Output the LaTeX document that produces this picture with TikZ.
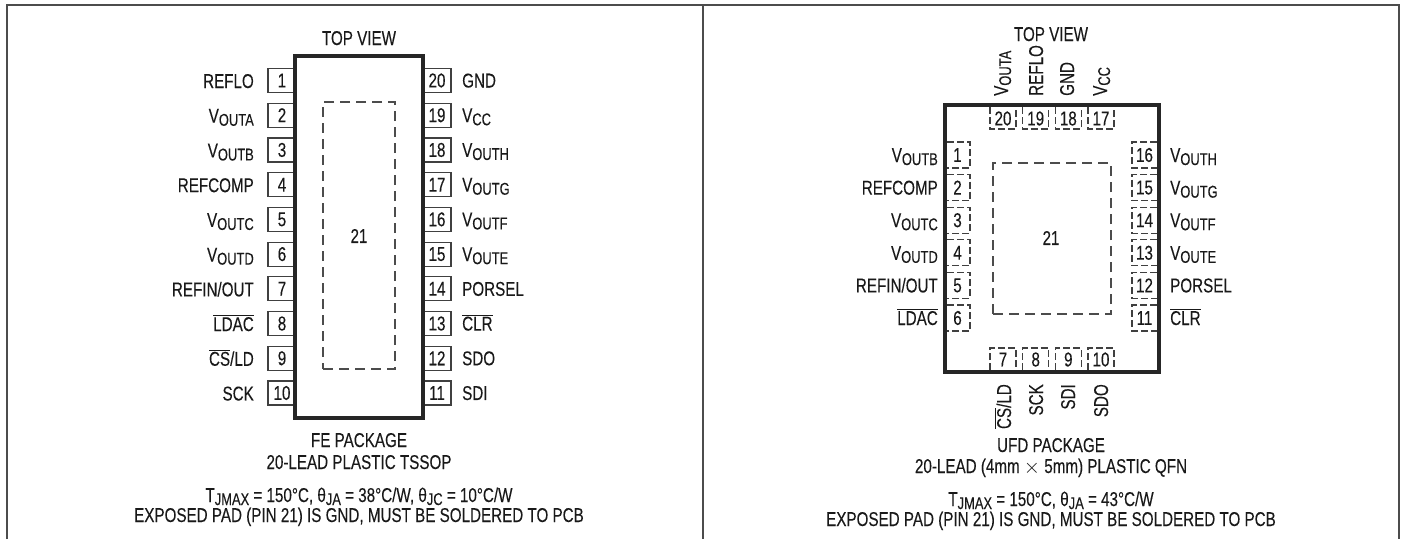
\documentclass[tikz,border=0pt]{standalone}
\usepackage{fontspec}
\setmainfont[FakeStretch=0.76,FakeBold=0.12]{Liberation Sans}
\newcommand{\sbs}[1]{{\fontsize{17}{17}\selectfont\raisebox{-3pt}{#1}}}
\newcommand{\Vs}[1]{V\sbs{#1}}
\newcommand{\ol}[1]{\ensuremath{\overline{\mbox{#1}}}}
\tikzset{
 lbl/.style={inner sep=0pt,font=\fontsize{20}{20}\selectfont,text=black!90},
 lbll/.style={lbl,anchor=base east},
 lblr/.style={lbl,anchor=base west},
 lblv/.style={lbl,anchor=base west,rotate=90},
 lblb/.style={lbl,anchor=base east,rotate=90},
 num/.style={lbl,anchor=center},
 chip/.style={draw=black!85,line width=4.5pt,fill=none,inner sep=0pt,outer sep=0pt},
 pinbox/.style={draw=black!75,line width=1.2pt,outer sep=0pt},
 dpin/.style={draw=black!75,line width=1.2pt,dash pattern=on 7pt off 3pt},
 pad/.style={draw=black!70,line width=1.2pt,dash pattern=on 10pt off 6pt,outer sep=0pt},
 frame/.style={draw=black!70,line width=1.8pt},
 txt/.style={lbl,anchor=base},
}
\begin{document}
\begin{tikzpicture}[x=1pt,y=-1pt]
\useasboundingbox (0,0) rectangle (1403,539);
\fill[white] (0,0) rectangle (1403,539);
\coordinate (fa) at (7,539); \coordinate (fb) at (7,5); \coordinate (fc) at (1399,5); \coordinate (fd) at (1399,539);
\coordinate (fm) at (703,5); \coordinate (fn) at (703,539);
\draw[frame] (fa) -- (fb) -- (fc) -- (fd);
\draw[frame] (fm) -- (fn);
% left package
\foreach \i/\t in {0/1,1/2,2/3,3/4,4/5,5/6,6/7,7/8,8/9,9/10}{
  \pgfmathsetmacro{\yy}{80.5+34.72*\i}
  \node[pinbox,num,minimum width=28pt,minimum height=24pt,anchor=center] (l\t) at (282,\yy) {\t};
}
\foreach \i/\t in {0/20,1/19,2/18,3/17,4/16,5/15,6/14,7/13,8/12,9/11}{
  \pgfmathsetmacro{\yy}{80.5+34.72*\i}
  \node[pinbox,num,minimum width=28pt,minimum height=24pt,anchor=center] (l\t) at (437,\yy) {\t};
}
\fill[white] (295,56) rectangle (423,418);
\node[chip,minimum width=128pt,minimum height=362pt,anchor=north west] (lchip) at (295,56) {};
\node[pad,minimum width=72pt,minimum height=267pt,anchor=north west,inner sep=0pt] (lpad) at (323,102) {};
\node[num] (l21) at (359,236) {21};
\foreach \i/\t in {0/{REFLO},1/{\Vs{OUTA}},2/{\Vs{OUTB}},3/{REFCOMP},4/{\Vs{OUTC}},5/{\Vs{OUTD}},6/{REFIN/OUT},7/{\ol{LDAC}},8/{\ol{CS}/LD},9/{SCK}}{
  \pgfmathsetmacro{\yy}{88+34.72*\i}
  \node[lbll] (ll\i) at (254,\yy) {\t};
}
\foreach \i/\t in {0/{GND},1/{\Vs{CC}},2/{\Vs{OUTH}},3/{\Vs{OUTG}},4/{\Vs{OUTF}},5/{\Vs{OUTE}},6/{PORSEL},7/{\ol{CLR}},8/{SDO},9/{SDI}}{
  \pgfmathsetmacro{\yy}{87.5+34.72*\i}
  \node[lblr] (lr\i) at (462,\yy) {\t};
}
\node[txt] (ltop) at (359,45) {TOP VIEW};
\node[txt] (lfe) at (359,447) {FE PACKAGE};
\node[txt] (lfe2) at (359,469) {20-LEAD PLASTIC TSSOP};
\node[txt] (lt) at (359,502) {T\sbs{JMAX} = 150°C, θ\sbs{JA} = 38°C/W, θ\sbs{JC} = 10°C/W};
\node[txt] (le) at (359,522) {EXPOSED PAD (PIN 21) IS GND, MUST BE SOLDERED TO PCB};
% right package
\node[chip,minimum width=214pt,minimum height=267pt,anchor=north west] (rchip) at (945,105) {};
\node[pad,minimum width=118pt,minimum height=151pt,anchor=north west,inner sep=0pt] (rpad) at (993,163) {};
\node[num] (r21) at (1051,238) {21};
% top/bottom pins
\foreach \x/\t/\b in {990/20/7,1022.7/19/8,1055.3/18/9,1088/17/10}{
  \draw[dpin] (\x,107) -- (\x,129) -- (\x+26,129) -- (\x+26,107);
  \node[num] (p\t) at (\x+13,118.5) {\t};
  \draw[dpin] (\x,370) -- (\x,348) -- (\x+26,348) -- (\x+26,370);
  \node[num] (p\b) at (\x+13,359.5) {\b};
}
% left/right pins
\foreach \i/\a/\b in {0/1/16,1/2/15,2/3/14,3/4/13,4/5/12,5/6/11}{
  \pgfmathsetmacro{\yy}{142+32.6*\i}
  \draw[dpin] (947,\yy) -- (970,\yy) -- (970,\yy+26) -- (947,\yy+26);
  \node[num] (p\a) at (957.5,\yy+13) {\a};
  \draw[dpin] (1157,\yy) -- (1132,\yy) -- (1132,\yy+26) -- (1157,\yy+26);
  \node[num] (p\b) at (1144.5,\yy+13) {\b};
}
\foreach \i/\t in {0/{\Vs{OUTB}},1/{REFCOMP},2/{\Vs{OUTC}},3/{\Vs{OUTD}},4/{REFIN/OUT},5/{\ol{LDAC}}}{
  \pgfmathsetmacro{\yy}{162+32.6*\i}
  \node[lbll] (rl\i) at (938,\yy) {\t};
}
\foreach \i/\t in {0/{\Vs{OUTH}},1/{\Vs{OUTG}},2/{\Vs{OUTF}},3/{\Vs{OUTE}},4/{PORSEL},5/{\ol{CLR}}}{
  \pgfmathsetmacro{\yy}{162+32.6*\i}
  \node[lblr] (rr\i) at (1170,\yy) {\t};
}
\foreach \x/\t in {1008/{\Vs{OUTA}},1043/{REFLO},1074/{GND},1107/{\Vs{CC}}}{
  \node[lblv] (rt\x) at (\x,96) {\t};
}
\foreach \x/\t in {1011/{\ol{CS}/LD},1043/{SCK},1075/{SDI},1108/{SDO}}{
  \node[lblb] (rb\x) at (\x,384) {\t};
}
\node[txt] (rtop) at (1051,41) {TOP VIEW};
\node[txt] (ru) at (1051,452) {UFD PACKAGE};
\node[txt] (ru2) at (1051,473) {20-LEAD (4mm $\times$ 5mm) PLASTIC QFN};
\node[txt] (rt) at (1051,506) {T\sbs{JMAX} = 150°C, θ\sbs{JA} = 43°C/W};
\node[txt] (re) at (1051,526) {EXPOSED PAD (PIN 21) IS GND, MUST BE SOLDERED TO PCB};
\end{tikzpicture}
\end{document}
